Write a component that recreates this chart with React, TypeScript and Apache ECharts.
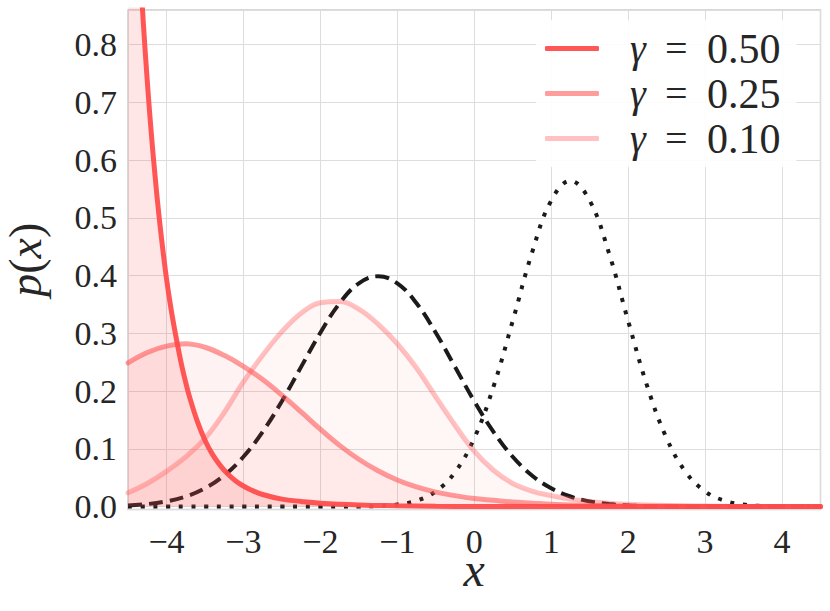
import React, { useEffect, useRef } from "react";
import * as echarts from "echarts";

// ---- data ----
const gaussX = [-4.5, -4.25, -4.0, -3.75, -3.5, -3.25, -3.0, -2.75, -2.5, -2.25, -2.0, -1.75, -1.5, -1.25, -1.0, -0.75, -0.5, -0.25, 0.0, 0.25, 0.5, 0.75, 1.0, 1.25, 1.5, 1.75, 2.0, 2.25, 2.5, 2.75, 3.0, 3.25, 3.5, 3.75, 4.0, 4.25, 4.5];

const dashedY = [0.002, 0.0044, 0.0091, 0.0175, 0.0317, 0.054, 0.0863, 0.1295, 0.1826, 0.242, 0.3011, 0.3521, 0.3867, 0.3989, 0.3867, 0.3521, 0.3011, 0.242, 0.1826, 0.1295, 0.0863, 0.054, 0.0317, 0.0175, 0.0091, 0.0044, 0.002, 0.0009, 0.0004, 0.0001, 0, 0, 0, 0, 0, 0, 0];

const dottedY = [0, 0, 0, 0, 0, 0, 0, 0, 0, 0, 0, 0.0001, 0.0003, 0.0011, 0.0036, 0.0103, 0.0264, 0.0595, 0.1183, 0.2076, 0.3215, 0.4394, 0.53, 0.5642, 0.53, 0.4394, 0.3215, 0.2076, 0.1183, 0.0595, 0.0264, 0.0103, 0.0036, 0.0011, 0.0003, 0.0001, 0];

const g025Y = [0.249, 0.267, 0.278, 0.282, 0.276, 0.262, 0.243, 0.22, 0.193, 0.164, 0.134, 0.106, 0.082, 0.062, 0.046, 0.034, 0.025, 0.019, 0.014, 0.011, 0.008, 0.006, 0.004, 0.003, 0.002, 0.0015, 0.001, 0.0007, 0.0005, 0.0002, 0, 0, 0, 0, 0, 0, 0];

const g010Y = [0.024, 0.04, 0.061, 0.086, 0.118, 0.163, 0.216, 0.262, 0.303, 0.335, 0.353, 0.355, 0.342, 0.316, 0.282, 0.24, 0.19, 0.141, 0.096, 0.063, 0.04, 0.027, 0.019, 0.013, 0.009, 0.006, 0.004, 0.003, 0.002, 0.0015, 0.001, 0.0005, 0, 0, 0, 0, 0];

const g050X = [-4.5, -4.45, -4.4, -4.35, -4.3, -4.25, -4.2, -4.15, -4.1, -4.05, -4.0, -3.95, -3.9, -3.85, -3.8, -3.75, -3.7, -3.6, -3.5, -3.4, -3.3, -3.2, -3.1, -3.0, -2.9, -2.75, -2.5, -2.25, -2.0, -1.5, -1.0, -0.5, 0.0, 1.0, 2.0, 3.0, 4.0, 4.5];
const g050Y = [1.38, 1.217, 1.07, 0.948, 0.836, 0.738, 0.651, 0.575, 0.507, 0.448, 0.395, 0.35, 0.311, 0.276, 0.243, 0.215, 0.19, 0.148, 0.115, 0.09, 0.071, 0.056, 0.0445, 0.0357, 0.0288, 0.021, 0.013, 0.009, 0.006, 0.003, 0.0015, 0.0005, 0, 0, 0, 0, 0, 0];

const legendNames = ["γ = 0.50", "γ = 0.25", "γ = 0.10"];

const pairs = (xs: number[], ys: number[]) => xs.map((x, i) => [x, ys[i]]);

const FONT = "Liberation Serif";
const TXT = "#262626";
const lineCol = (a: number) => `rgba(255,77,77,${a})`;

export default function App() {
  const ref = useRef<HTMLDivElement>(null);
  useEffect(() => {
    if (!ref.current) return;
    const chart = echarts.init(ref.current, undefined, { renderer: "svg" });
    const redSeries = (name: string, data: number[][], la: number, fa: number) => ({
      name,
      type: "line",
      data,
      smooth: 0.4,
      showSymbol: false,
      symbol: "none",
      clip: true,
      itemStyle: { color: lineCol(la) },
      lineStyle: { color: lineCol(la), width: 5, cap: "round" },
      areaStyle: { color: lineCol(fa), origin: "auto" },
      z: 3,
    });
    const LFS = 40;
    const LLH = 45;
    chart.setOption({
      animation: false,
      backgroundColor: "#ffffff",
      textStyle: { fontFamily: FONT },
      grid: {
        left: 128,
        right: 9.5,
        top: 10,
        bottom: 101.5,
        outerBoundsMode: "none",
        containLabel: false,
        show: true,
        borderColor: "#cccccc",
        borderWidth: 1.5,
        backgroundColor: "#ffffff",
      },
      xAxis: {
        type: "value",
        min: -4.5,
        max: 4.5,
        splitNumber: 9,
        axisLine: { show: false },
        axisTick: { show: false },
        splitLine: { show: true, lineStyle: { color: "#dddddd", width: 1 } },
        axisLabel: {
          showMinLabel: false,
          showMaxLabel: false,
          margin: 15,
          fontFamily: FONT,
          fontSize: 34,
          color: TXT,
          formatter: (v: number) => (v < 0 ? "\u2212" + Math.abs(v) : String(v)),
        },
        name: "{i|x}",
        nameLocation: "middle",
        nameGap: 40,
        nameMoveOverlap: false,
        nameTextStyle: {
          fontFamily: FONT,
          fontSize: 48,
          lineHeight: 40,
          color: TXT,
          rich: { i: { fontFamily: FONT, fontSize: 48, lineHeight: 40, fontStyle: "italic", color: TXT } },
        },
      },
      yAxis: {
        type: "value",
        min: -0.005,
        max: 0.86,
        splitNumber: 9,
        axisLine: { show: false },
        axisTick: { show: false },
        splitLine: { show: true, lineStyle: { color: "#dddddd", width: 1 } },
        axisLabel: {
          showMinLabel: false,
          showMaxLabel: false,
          margin: 11,
          fontFamily: FONT,
          fontSize: 34,
          color: TXT,
          formatter: (v: number) => v.toFixed(1),
        },
        name: "{i|p}({i|x})",
        nameLocation: "middle",
        nameRotate: 90,
        nameGap: 82,
        nameTextStyle: {
          fontFamily: FONT,
          fontSize: 46,
          lineHeight: 42,
          color: TXT,
          rich: { i: { fontFamily: FONT, fontSize: 46, lineHeight: 42, fontStyle: "italic", color: TXT } },
        },
      },
      legend: {
        orient: "vertical",
        left: 536,
        top: 20,
        padding: [6, 16, 6, 9],
        backgroundColor: "rgba(255,255,255,0.9)",
        itemWidth: 54,
        itemHeight: 5,
        itemGap: 0,
        icon: "roundRect",
        selectedMode: false,
        data: legendNames,
        formatter: (name: string) => {
          const val = name.split("=")[1].trim();
          return "{s|}{g|γ}{e|=}{n|" + val + "}";
        },
        textStyle: {
          fontFamily: FONT,
          fontSize: LFS,
          lineHeight: LLH,
          color: TXT,
          rich: {
            s: { width: 26, lineHeight: LLH, fontSize: LFS },
            g: { width: 35, fontFamily: FONT, fontSize: LFS, fontStyle: "italic", color: TXT, lineHeight: LLH },
            e: { width: 42, fontFamily: FONT, fontSize: LFS, color: TXT, lineHeight: LLH },
            n: { fontFamily: FONT, fontSize: LFS + 2, color: TXT, lineHeight: LLH },
          },
        },
      },
      series: [
        {
          name: "dashed",
          type: "line",
          data: pairs(gaussX, dashedY),
          smooth: 0.4,
          showSymbol: false,
          symbol: "none",
          lineStyle: { color: "#1a1a1a", width: 4, type: [14, 7] },
          z: 2,
        },
        {
          name: "dotted",
          type: "line",
          data: pairs(gaussX, dottedY),
          smooth: 0.4,
          showSymbol: false,
          symbol: "none",
          lineStyle: { color: "#1a1a1a", width: 4, type: [4, 8.7] },
          z: 2,
        },
        redSeries(legendNames[0], pairs(g050X, g050Y), 0.95, 0.2),
        redSeries(legendNames[1], pairs(gaussX, g025Y), 0.55, 0.107),
        redSeries(legendNames[2], pairs(gaussX, g010Y), 0.35, 0.073),
      ],
    });
    return () => chart.dispose();
  }, []);
  return <div ref={ref} style={{ width: 830, height: 611, position: "fixed", left: 0, top: 0 }} />;
}
